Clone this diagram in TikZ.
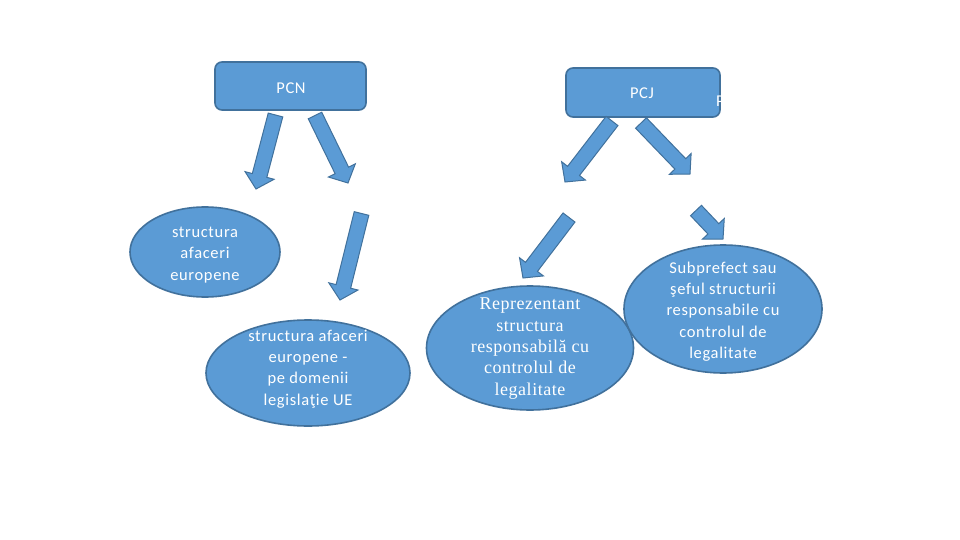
\documentclass[tikz,border=0pt]{standalone}
\usepackage{fontspec}
\setmainfont{Carlito}[LetterSpace=4]
\newfontfamily\serifface{Liberation Serif}[LetterSpace=3]
\usetikzlibrary{calc,shapes.geometric}
\definecolor{bfill}{HTML}{5B9BD5}
\definecolor{bline}{HTML}{41719C}
\tikzset{
  boxstyle/.style={draw=bline,fill=bfill,line width=1.6pt,rounded corners=7pt},
  ellstyle/.style={ellipse,draw=bline,fill=bfill,line width=1.6pt,inner sep=0pt},
  txt/.style={text=white,align=center,font=\fontsize{16.5}{21.3}\selectfont},
  serittxt/.style={text=white,align=center,font=\serifface\fontsize{18}{21.3}\selectfont},
  arrowstyle/.style={draw=bline,fill=bfill,line width=1pt,line join=miter}
}
\newcommand{\blockarrow}[2]{%
  \coordinate (hb) at ($(#2)!14pt!(#1)$);
  \filldraw[arrowstyle] ($(#1)!7.5pt!90:(#2)$) -- ($(hb)!7.5pt!-90:(#1)$)
    -- ($(hb)!15pt!-90:(#1)$) -- (#2) -- ($(hb)!15pt!90:(#1)$)
    -- ($(hb)!7.5pt!90:(#1)$) -- ($(#1)!7.5pt!-90:(#2)$) -- cycle;}
\begin{document}
\begin{tikzpicture}[x=1pt,y=-1pt]
\useasboundingbox[fill=white] (0,0) rectangle (960,540);
% top boxes
\draw[boxstyle] (215,62) rectangle (366,110);
\node[txt] (pcn) at (291,88) {PCN};
\draw[boxstyle] (566,68) rectangle (720,117);
\node[txt] (pcj) at (642,93) {PCJ};
\node[txt,anchor=west,inner sep=0pt] (pstray) at (716,101) {P};
% ellipses
\node[ellstyle,minimum width=150pt,minimum height=90pt] (e1) at (205,252) {};
\node[txt] (e1t) at (205,255) {structura\\afaceri\\europene};
\node[ellstyle,minimum width=204pt,minimum height=106pt] (e2) at (308,373) {};
\node[txt] (e2t) at (308,369) {structura afaceri\\europene -\\pe domenii\\legislaţie UE};
\node[ellstyle,minimum width=207pt,minimum height=124pt] (e3) at (530,348) {};
\node[serittxt] (e3t) at (530,348.5) {Reprezentant\\structura\\responsabilă cu\\controlul de\\legalitate};
\node[ellstyle,minimum width=198pt,minimum height=128pt] (e4) at (723,309) {};
\node[txt] (e4t) at (723,311.5) {Subprefect sau\\şeful structurii\\responsabile cu\\controlul de\\legalitate};
% arrow anchors
\coordinate (a1s) at (275.5,115); \coordinate (a1e) at (256,189);
\coordinate (a2s) at (315,115.5); \coordinate (a2e) at (348,183);
\coordinate (a3s) at (361.5,213.5); \coordinate (a3e) at (340,300);
\coordinate (a4s) at (612,121); \coordinate (a4e) at (565,182);
\coordinate (a5s) at (641,123); \coordinate (a5e) at (690,174);
\coordinate (a6s) at (569,217.5); \coordinate (a6e) at (523,278);
\coordinate (a7s) at (696,210.5); \coordinate (a7e) at (723,239);
\blockarrow{a1s}{a1e}
\blockarrow{a2s}{a2e}
\blockarrow{a3s}{a3e}
\blockarrow{a4s}{a4e}
\blockarrow{a5s}{a5e}
\blockarrow{a6s}{a6e}
\blockarrow{a7s}{a7e}
\end{tikzpicture}
\end{document}
